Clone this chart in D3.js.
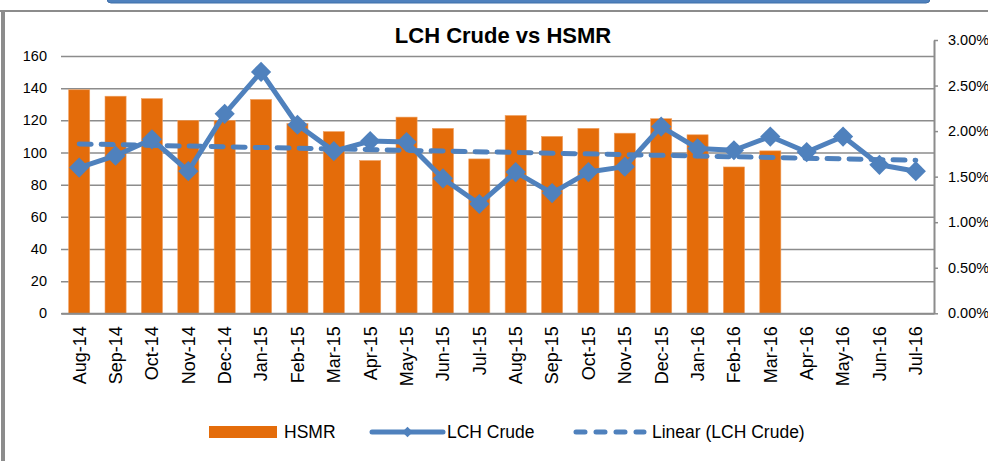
<!DOCTYPE html>
<html><head><meta charset="utf-8">
<script src="https://cdn.jsdelivr.net/npm/d3@7"></script>
<style>body{margin:0;background:#fff}svg{display:block}text{font-family:"Liberation Sans",Arial,sans-serif;fill:#000}</style>
</head><body><svg id="c" width="988" height="461"></svg>
<script>
const months = ["Aug-14","Sep-14","Oct-14","Nov-14","Dec-14","Jan-15","Feb-15","Mar-15","Apr-15","May-15","Jun-15","Jul-15","Aug-15","Sep-15","Oct-15","Nov-15","Dec-15","Jan-16","Feb-16","Mar-16","Apr-16","May-16","Jun-16","Jul-16"];
const hsmr = [139,135,133.5,120,120,133,118,113,95,122,115,96,123,110,115,112,121,111,91,101,null,null,null,null];
const lchCrude = [1.60,1.73,1.91,1.56,2.19,2.65,2.07,1.78,1.89,1.88,1.48,1.20,1.55,1.32,1.55,1.61,2.05,1.81,1.79,1.94,1.77,1.94,1.63,1.56];
const leftTicks = [0,20,40,60,80,100,120,140,160];
const rightTicks = [0,0.5,1.0,1.5,2.0,2.5,3.0];

const svg = d3.select("#c");
const L = 61, R = 934, B = 313.3;
const x = d3.scaleBand().domain(months).range([L, R]).paddingInner(0.42).paddingOuter(0.21);
const yL = d3.scaleLinear().domain([0,160]).range([B, 56]);
const yR = d3.scaleLinear().domain([0,3]).range([B, 40]);
const grid = "#8c8c8c", orange = "#e46c0a", blue = "#4f81bd";

// frame
svg.append("rect").attr("x",107).attr("y",-6).attr("width",823).attr("height",9).attr("rx",4).attr("fill",blue).attr("stroke","#3f6ea8").attr("stroke-width",1);
svg.append("line").attr("x1",0).attr("x2",988).attr("y1",11).attr("y2",11).attr("stroke",grid).attr("stroke-width",2);
svg.append("line").attr("x1",3).attr("x2",3).attr("y1",10).attr("y2",461).attr("stroke",grid).attr("stroke-width",4);

// title
svg.append("text").attr("x",503).attr("y",43).attr("text-anchor","middle").attr("font-weight","bold").attr("font-size",22).text("LCH Crude vs HSMR");

// gridlines + left axis
const gL = svg.append("g").attr("transform",`translate(${L},0)`)
  .call(d3.axisLeft(yL).tickValues(leftTicks).tickSize(-(R-L)).tickPadding(14));
gL.select(".domain").remove();
gL.selectAll(".tick line").attr("stroke",grid).attr("stroke-width",1.5);
gL.selectAll(".tick text").attr("font-size",14.5).attr("font-family","Liberation Sans, Arial, sans-serif").attr("fill","#000");

// bars
svg.append("g").selectAll("rect").data(months.map((m,i)=>({m,v:hsmr[i]})).filter(d=>d.v!=null))
  .join("rect").attr("x",d=>x(d.m)).attr("width",x.bandwidth())
  .attr("y",d=>yL(d.v)).attr("height",d=>B-yL(d.v)).attr("fill",orange).attr("stroke","#f0a060").attr("stroke-width",0.6);

// bottom axis
const gX = svg.append("g").attr("transform",`translate(0,${B})`).call(d3.axisBottom(x).tickSize(0));
gX.select(".domain").attr("stroke",grid).attr("stroke-width",2);
gX.selectAll(".tick text").attr("font-size",18).attr("font-family","Liberation Sans, Arial, sans-serif").attr("fill","#000")
  .attr("transform","rotate(-90)").attr("text-anchor","end").attr("x",-13).attr("y",0).attr("dy","0.35em");

// right axis
const gR = svg.append("g").attr("transform",`translate(${R},0)`)
  .call(d3.axisRight(yR).tickValues(rightTicks).tickSize(4).tickSizeOuter(0).tickPadding(10).tickFormat(d=>d.toFixed(2)+"%"));
gR.select(".domain").attr("stroke",grid).attr("stroke-width",2);
gR.selectAll(".tick line").attr("stroke",grid).attr("stroke-width",1.5);
gR.selectAll(".tick text").attr("font-size",14.5).attr("font-family","Liberation Sans, Arial, sans-serif").attr("fill","#000");

// trendline (least squares of LCH Crude)
const n = lchCrude.length, mi = d3.mean(lchCrude,(d,i)=>i), my = d3.mean(lchCrude);
const slope = d3.sum(lchCrude,(d,i)=>(i-mi)*(d-my)) / d3.sum(lchCrude,(d,i)=>(i-mi)*(i-mi));
const trend = [0,n-1].map(i=>({m:months[i],v:my+slope*(i-mi)}));
const cx = m => x(m)+x.bandwidth()/2;
svg.append("path").datum(trend).attr("fill","none").attr("stroke",blue).attr("stroke-width",5)
  .attr("stroke-dasharray","12 10").attr("stroke-linecap","round")
  .attr("d",d3.line().x(d=>cx(d.m)).y(d=>yR(d.v)));

// LCH line
const pts = months.map((m,i)=>({m,v:lchCrude[i]}));
svg.append("path").datum(pts).attr("fill","none").attr("stroke",blue).attr("stroke-width",5).attr("stroke-linejoin","round")
  .attr("d",d3.line().x(d=>cx(d.m)).y(d=>yR(d.v)));
const dia = d3.symbol().type(d3.symbolDiamond2).size(260);
svg.append("g").selectAll("path").data(pts).join("path")
  .attr("transform",d=>`translate(${cx(d.m)},${yR(d.v)}) rotate(0)`).attr("d",dia).attr("fill",blue);

// legend
const lg = svg.append("g");
lg.append("rect").attr("x",209).attr("y",426).attr("width",68).attr("height",12).attr("fill",orange);
lg.append("text").attr("x",284).attr("y",432).attr("dy","0.35em").attr("font-size",17.5).text("HSMR");
lg.append("line").attr("x1",372).attr("x2",443).attr("y1",432).attr("y2",432).attr("stroke",blue).attr("stroke-width",5).attr("stroke-linecap","round");
lg.append("path").attr("transform","translate(407.5,432)").attr("d",d3.symbol().type(d3.symbolDiamond2).size(70)).attr("fill",blue);
lg.append("text").attr("x",447).attr("y",432).attr("dy","0.35em").attr("font-size",17.5).text("LCH Crude");
lg.append("line").attr("x1",576).attr("x2",644).attr("y1",432).attr("y2",432).attr("stroke",blue).attr("stroke-width",5).attr("stroke-dasharray","9 11").attr("stroke-linecap","round");
lg.append("text").attr("x",652).attr("y",432).attr("dy","0.35em").attr("font-size",17.5).text("Linear (LCH Crude)");
</script></body></html>
